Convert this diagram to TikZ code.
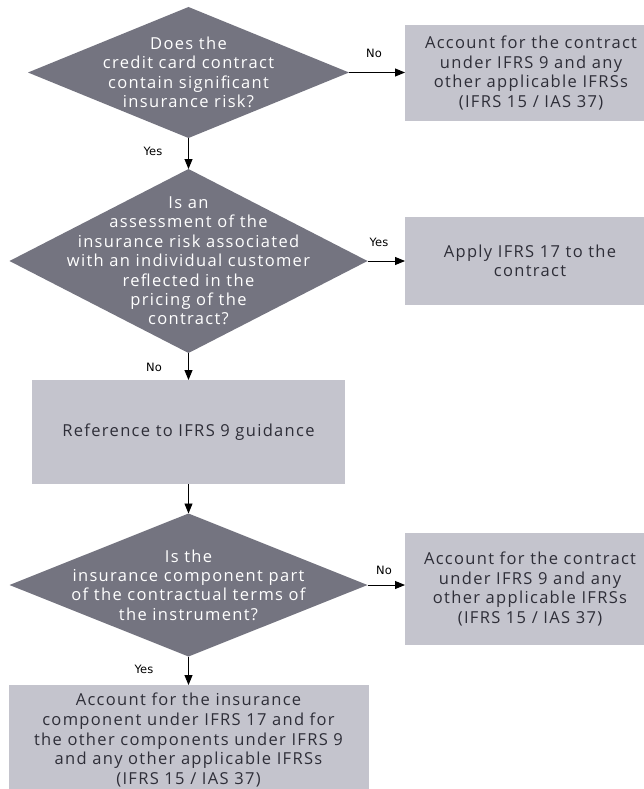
\documentclass[tikz,border=0pt]{standalone}
\usepackage{fontspec}
\setmainfont{Open Sans}[LetterSpace=8]
\newfontfamily\lblfont{DejaVu Sans}
\usetikzlibrary{shapes.geometric,arrows.meta}
\definecolor{dia}{HTML}{747480}
\definecolor{boxc}{HTML}{C4C4CD}
\definecolor{txt}{HTML}{2E2E38}
\begin{document}
\begin{tikzpicture}[x=1pt,y=-1pt,
 dianode/.style={diamond, fill=dia, draw=none, inner sep=0pt, outer sep=0pt},
 dtext/.style={text=white, align=center, font=\fontsize{16.5}{19.4}\selectfont, inner sep=0pt},
 boxnode/.style={rectangle, fill=boxc, draw=none, inner sep=0pt, outer sep=0pt, align=center, text=txt, font=\fontsize{16.5}{19.4}\selectfont},
 arr/.style={draw=black, line width=0.9pt, -{Triangle[length=10pt,width=8pt]}},
 lbl/.style={font=\lblfont\fontsize{11.5}{13}\selectfont, text=black, inner sep=0pt}]
\useasboundingbox (0,0) rectangle (644,789);
\fill[white] (0,0) rectangle (644,789);

\node[dianode, minimum width=321pt, minimum height=131pt] (d1) at (188.5,72.5) {};
\node[dtext] (t1) at (d1.center) {Does the\\credit card contract\\contain significant\\insurance risk?};
\node[boxnode, minimum width=252pt, minimum height=96pt] (b1) at (531,73) {Account for the contract\\under IFRS 9 and any\\other applicable IFRSs\\(IFRS 15 / IAS 37)};

\node[dianode, minimum width=358pt, minimum height=184pt] (d2) at (188.5,261) {};
\node[dtext] (t2) at (d2.center) {Is an\\assessment of the\\insurance risk associated\\with an individual customer\\reflected in the\\pricing of the\\contract?};
\node[boxnode, minimum width=250pt, minimum height=88pt] (b2) at (530,261) {Apply IFRS 17 to the\\contract};

\node[boxnode, minimum width=313pt, minimum height=104pt] (b3) at (188.5,432) {Reference to IFRS 9 guidance};

\node[dianode, minimum width=358pt, minimum height=143pt] (d3) at (188.5,585) {};
\node[dtext] (t3) at (d3.center) {Is the\\insurance component part\\of the contractual terms of\\the instrument?};
\node[boxnode, minimum width=250pt, minimum height=112pt] (b4) at (530,589) {Account for the contract\\under IFRS 9 and any\\other applicable IFRSs\\(IFRS 15 / IAS 37)};

\node[boxnode, minimum width=360pt, minimum height=110pt, font=\fontsize{16.5}{19.6}\selectfont] (b5) at (188.5,740) {Account for the insurance\\component under IFRS 17 and for\\the other components under IFRS 9\\and any other applicable IFRSs\\(IFRS 15 / IAS 37)};

\draw[arr] (d1.east) -- (d1.east -| b1.west);
\draw[arr] (d1.south) -- (d2.north);
\draw[arr] (d2.east) -- (d2.east -| b2.west);
\draw[arr] (d2.south) -- (b3.north);
\draw[arr] (b3.south) -- (d3.north);
\draw[arr] (d3.east) -- (d3.east -| b4.west);
\draw[arr] (d3.south) -- (b5.north);

\node[lbl] (l1) at (374,53) {No};
\node[lbl] (l2) at (153,151) {Yes};
\node[lbl] (l3) at (379,242) {Yes};
\node[lbl] (l4) at (154,367) {No};
\node[lbl] (l5) at (384,570) {No};
\node[lbl] (l6) at (144,669) {Yes};
\end{tikzpicture}
\end{document}
